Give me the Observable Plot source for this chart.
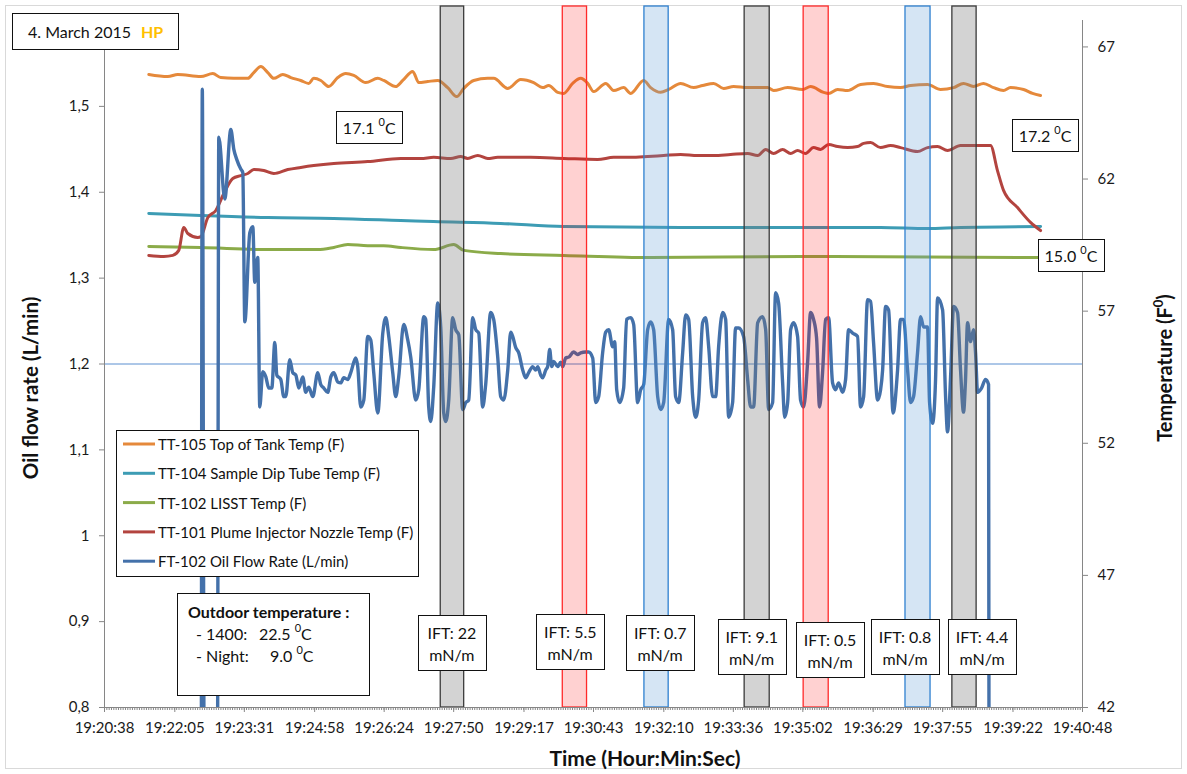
<!DOCTYPE html>
<html>
<head>
<meta charset="utf-8">
<script src="https://cdn.jsdelivr.net/npm/d3@7"></script>
<script src="https://cdn.jsdelivr.net/npm/@observablehq/plot@0.6"></script>
<style>
  html, body { margin: 0; padding: 0; background: #fff; }
  #chart { position: relative; width: 1187px; height: 774px; }
  #chart svg { display: block; }
</style>
</head>
<body>
<div id="chart"></div>
<script>
// ---------------- DATA ----------------
// All times are seconds elapsed after T0
const T0 = "19:20:00";

const xTickLabels = ["19:20:38","19:22:05","19:23:31","19:24:58","19:26:24","19:27:50","19:29:17",
  "19:30:43","19:32:10","19:33:36","19:35:02","19:36:29","19:37:55","19:39:22","19:40:48"];
const leftTickLabels = ["0,8","0,9","1","1,1","1,2","1,3","1,4","1,5"];
const rightTickLabels = ["42","47","52","57","62","67"];

const seriesNames = [
  "TT-105 Top of Tank Temp (F)",
  "TT-104 Sample Dip Tube Temp (F)",
  "TT-102 LISST Temp (F)",
  "TT-101 Plume Injector Nozzle Temp (F)",
  "FT-102 Oil Flow Rate (L/min)"
];

// TT-105 Top of Tank Temp (F)
const tt105Time = [92.8,116.3,128.7,157.2,172.0,181.9,198.0,215.3,222.7,231.4,240.0,247.4,258.6,268.5,280.8,290.7,296.9,305.6,315.5,326.6,336.5,346.4,361.2,376.1,383.5,398.3,407.0,419.4,426.8,437.9,450.3,462.6,473.8,482.5,494.8,512.1,519.5,536.9,552.9,569.0,580.1,587.6,598.7,606.1,617.2,627.1,635.8,643.2,658.1,668.0,680.3,689.0,705.1,713.7,726.1,736.0,750.8,766.9,778.0,791.6,804.0,816.4,833.7,858.4,865.8,883.2,901.7,911.6,927.7,933.9,945.0,957.4,973.4,989.5,1006.8,1022.9,1035.3,1056.3,1072.4,1088.5,1100.8,1113.2,1125.5,1137.9,1150.3,1158.9,1175.1,1186.2,1196.1];
const tt105Temp = [65.96,65.88,65.96,65.88,65.99,65.84,65.81,65.81,66.03,66.26,66.03,65.81,65.96,65.84,65.73,65.62,65.81,65.73,65.50,65.84,65.99,65.92,65.65,65.81,65.73,65.50,65.73,66.07,65.65,65.69,65.73,65.46,65.12,65.43,65.73,65.81,65.81,65.43,65.77,65.65,65.46,65.54,65.28,65.24,65.62,65.81,65.62,65.31,65.62,65.35,65.46,65.24,65.73,65.46,65.28,65.39,65.62,65.46,65.54,65.62,65.43,65.50,65.46,65.46,65.35,65.46,65.39,65.50,65.28,65.24,65.39,65.35,65.58,65.62,65.50,65.46,65.54,65.58,65.39,65.46,65.62,65.50,65.62,65.46,65.35,65.46,65.39,65.24,65.16];

// TT-104 Sample Dip Tube Temp (F)
const tt104Time = [92.8,157.2,240.0,321.7,404.5,445.3,528.2,606.1,750.8,998.2,1056.3,1097.1,1196.1];
const tt104Temp = [60.70,60.62,60.54,60.51,60.43,60.39,60.32,60.20,60.17,60.17,60.13,60.17,60.20];

// TT-102 LISST Temp (F)
const tt102Time = [92.8,157.2,240.0,301.9,321.7,339.0,363.7,383.5,404.5,445.3,470.1,482.5,528.2,606.1,713.7,899.2,1196.1];
const tt102Temp = [59.45,59.41,59.33,59.33,59.41,59.52,59.48,59.48,59.41,59.33,59.52,59.30,59.18,59.11,59.03,59.07,59.03];

// TT-101 Plume Injector Nozzle Temp (F)
const tt101Time = [92.8,111.4,122.5,129.9,136.1,141.1,153.4,157.2,165.8,175.7,185.6,196.7,206.6,215.3,222.7,235.1,247.4,264.8,280.8,296.9,321.7,363.7,404.5,429.3,445.3,466.4,478.7,487.4,499.8,512.1,524.5,565.3,606.1,648.1,668.0,689.0,710.0,729.8,750.8,771.9,791.6,812.6,833.7,846.1,856.0,865.8,877.0,886.9,895.5,905.4,915.3,924.0,933.9,945.0,957.4,969.7,977.2,985.8,998.2,1010.5,1022.9,1043.9,1056.3,1068.6,1081.0,1097.1,1118.1,1134.2,1142.8,1150.3,1167.6,1183.7,1196.1];
const tt101Temp = [59.11,59.07,59.11,59.30,60.17,59.94,59.79,59.82,60.54,60.81,61.45,62.02,62.13,62.21,62.36,62.32,62.21,62.36,62.44,62.51,62.59,62.66,62.78,62.78,62.82,62.78,62.85,62.78,62.89,62.78,62.82,62.82,62.78,62.74,62.82,62.82,62.85,62.89,62.93,62.89,62.89,62.93,62.97,62.89,63.12,62.97,63.12,62.97,63.08,62.97,63.19,63.12,63.31,63.23,63.19,63.23,63.35,63.38,63.19,63.27,63.19,63.04,63.19,63.23,63.08,63.27,63.27,63.27,62.32,61.57,60.92,60.36,60.05];

// FT-102 Oil Flow Rate (L/min)   (values below 0,8 run off the bottom of the chart)
const flowTime = [157.8,159.0,161.5,177.6,179.4,186.8,194.3,198.0,201.7,206.6,209.1,211.6,217.8,221.5,223.9,227.6,230.1,233.8,237.6,241.3,245.0,248.7,251.2,256.1,259.8,262.3,267.2,270.9,274.7,278.4,283.3,287.0,290.7,295.7,301.9,305.6,309.3,314.2,318.0,321.7,326.6,330.3,334.0,339.0,342.7,348.9,351.3,355.0,358.8,363.7,367.4,371.1,376.1,382.3,386.0,389.7,394.6,398.3,402.0,408.2,413.2,416.9,423.1,426.8,433.0,435.4,439.1,441.6,445.3,450.3,454.0,457.7,460.2,463.9,468.8,472.5,476.3,481.2,484.9,488.6,493.6,497.3,501.0,505.9,509.6,515.8,519.5,524.5,528.2,531.9,536.9,540.6,543.1,546.8,550.5,555.4,559.1,562.8,567.8,571.5,574.0,577.7,580.1,583.9,586.3,588.8,591.3,593.8,598.7,602.4,604.9,608.6,612.3,618.5,623.4,627.1,633.3,637.0,642.0,645.7,649.4,654.3,658.1,661.8,666.7,669.2,671.7,675.4,680.3,684.0,689.0,692.7,697.6,701.4,705.1,710.0,713.7,717.4,722.4,726.1,729.8,736.0,740.9,744.6,748.4,753.3,757.0,760.7,765.7,769.4,773.1,778.0,781.7,785.5,790.4,794.1,797.8,802.8,806.5,810.2,815.1,818.8,822.6,828.7,833.7,837.4,841.1,846.1,852.2,856.0,859.7,864.6,868.3,872.0,877.0,879.5,883.2,886.9,890.6,895.5,899.2,903.0,907.9,911.6,915.3,919.0,922.7,926.4,930.2,933.9,938.8,942.5,946.2,951.2,954.9,958.6,963.6,969.7,973.4,977.2,982.1,985.8,989.5,994.5,998.2,1000.7,1004.4,1008.1,1013.7,1019.2,1022.9,1026.6,1031.6,1035.3,1039.0,1043.9,1047.7,1051.4,1056.3,1058.8,1062.5,1066.2,1068.7,1074.9,1078.6,1081.0,1084.8,1088.5,1093.4,1097.1,1100.8,1103.2,1105.8,1109.5,1113.2,1115.7,1118.2,1123.1,1128.0,1131.8,1132.4];
const flowRate = [0.70,1.520,0.70,0.70,1.464,1.392,1.473,1.450,1.438,1.427,1.423,1.249,1.353,1.360,1.295,1.324,1.150,1.191,1.185,1.172,1.172,1.225,1.187,1.182,1.162,1.162,1.205,1.190,1.187,1.172,1.185,1.167,1.173,1.162,1.190,1.176,1.172,1.167,1.185,1.190,1.179,1.178,1.184,1.182,1.190,1.207,1.197,1.150,1.158,1.232,1.228,1.190,1.143,1.236,1.254,1.232,1.190,1.162,1.185,1.246,1.228,1.208,1.158,1.170,1.255,1.252,1.150,1.133,1.173,1.271,1.243,1.143,1.133,1.158,1.254,1.240,1.234,1.147,1.155,1.158,1.254,1.240,1.236,1.150,1.176,1.260,1.252,1.208,1.162,1.158,1.193,1.237,1.232,1.219,1.213,1.193,1.184,1.190,1.197,1.193,1.197,1.187,1.184,1.193,1.197,1.217,1.197,1.203,1.197,1.202,1.197,1.207,1.208,1.214,1.211,1.213,1.214,1.214,1.207,1.155,1.162,1.213,1.237,1.240,1.220,1.226,1.170,1.155,1.172,1.252,1.254,1.246,1.155,1.170,1.176,1.240,1.249,1.240,1.162,1.147,1.155,1.252,1.240,1.162,1.155,1.213,1.257,1.252,1.162,1.138,1.158,1.248,1.254,1.220,1.162,1.162,1.220,1.260,1.252,1.138,1.155,1.242,1.242,1.232,1.182,1.150,1.150,1.248,1.255,1.240,1.147,1.155,1.283,1.271,1.178,1.138,1.155,1.240,1.248,1.232,1.158,1.150,1.202,1.260,1.252,1.230,1.150,1.190,1.252,1.254,1.178,1.170,1.178,1.167,1.182,1.240,1.236,1.232,1.150,1.162,1.275,1.273,1.225,1.158,1.170,1.193,1.267,1.263,1.143,1.193,1.252,1.252,1.193,1.155,1.162,1.213,1.255,1.243,1.243,1.155,1.131,1.182,1.277,1.263,1.162,1.121,1.185,1.267,1.260,1.193,1.144,1.180,1.248,1.226,1.240,1.213,1.167,1.172,1.182,1.176,0.70];

// Target line on the flow axis
const targetFlow = [1.2];

// Shaded IFT test windows (seconds after T0)
const bandStart = [454, 605, 706, 830, 903, 1029, 1087];
const bandEnd   = [483, 635, 736, 861, 934, 1060, 1117];
const bandKind  = ["gray", "red", "blue", "gray", "red", "blue", "gray"];

// IFT labels (centre time, centre level on the flow axis)
const iftValue = ["22", "5.5", "0.7", "9.1", "0.5", "0.8", "4.4"];
const iftTime  = [468.5, 614.8, 726.1, 839.3, 936.3, 1029.1, 1124.3];
const iftLevel = [0.875, 0.876, 0.875, 0.871, 0.867, 0.870, 0.871];

// Temperature call-outs
const noteText  = ["17.1 ", "17.2 ", "15.0 "];
const noteTime  = [366.2, 1202.3, 1234.4];
const noteLevel = [1.4756, 1.4662, 1.3262];

// ---------------- HELPERS ----------------
const toSec = s => { const [h, m, x] = s.split(":").map(Number); return h * 3600 + m * 60 + x; };
const t0 = toSec(T0);
const xTicks = xTickLabels.map(s => toSec(s) - t0);
const leftTicks = leftTickLabels.map(s => +s.replace(",", "."));
const flowDomain = [leftTicks[0], 1.6];
const tempDomain = [+rightTickLabels[0], 68];
const tempToFlow = T => flowDomain[0] + (T - tempDomain[0]) * (flowDomain[1] - flowDomain[0]) / (tempDomain[1] - tempDomain[0]);
const rightTicks = rightTickLabels.map(s => tempToFlow(+s));
const leftLabel = new Map(leftTicks.map((v, i) => [v, leftTickLabels[i]]));
const rightLabel = new Map(rightTicks.map((v, i) => [v, rightTickLabels[i]]));
const xLabel = new Map(xTicks.map((v, i) => [v, xTickLabels[i]]));
const majorStep = (xTicks[xTicks.length - 1] - xTicks[0]) / (xTicks.length - 1);
const minorTicks = d3.range(0, (xTicks.length - 1) * 30 + 1).map(i => xTicks[0] + i * majorStep / 30);

const colors = ["#e5893b", "#3d9cb4", "#8bab49", "#b3443f", "#4471aa"];
const mk = (times, vals, conv) => times.map((t, i) => ({t, v: conv ? tempToFlow(vals[i]) : vals[i]}));
const s105 = mk(tt105Time, tt105Temp, true);
const s104 = mk(tt104Time, tt104Temp, true);
const s102 = mk(tt102Time, tt102Temp, true);
const s101 = mk(tt101Time, tt101Temp, true);
const sFlow = mk(flowTime, flowRate, false);

const bandStyle = {
  gray: {fill: "#7a7a7a", op: 0.33, stroke: "#3a3a3a"},
  red:  {fill: "#ff0000", op: 0.18, stroke: "#ff2a2a"},
  blue: {fill: "#5b9bd5", op: 0.26, stroke: "#2f80d0"}
};
const bands = bandStart.map((s, i) => ({s, e: bandEnd[i], k: bandKind[i]}));

const FONT = "Lato, 'Open Sans', 'DejaVu Sans', sans-serif";
const AX = "#868686";

// ---------------- PLOT ----------------
const plot = Plot.plot({
  width: 1187,
  height: 774,
  marginLeft: 104,
  marginRight: 105,
  marginTop: 20,
  marginBottom: 67,
  style: {fontFamily: FONT, fontSize: "15px", background: "#fff", color: "#111"},
  x: {type: "linear", domain: [xTicks[0], xTicks[xTicks.length - 1]]},
  y: {type: "linear", domain: flowDomain},
  marks: [
    Plot.ruleY(targetFlow, {stroke: "#5b8fd0", strokeWidth: 1}),
    Plot.line(s105, {x: "t", y: "v", stroke: colors[0], strokeWidth: 3, curve: "monotone-x", clip: true}),
    Plot.line(s104, {x: "t", y: "v", stroke: colors[1], strokeWidth: 3, curve: "monotone-x", clip: true}),
    Plot.line(s102, {x: "t", y: "v", stroke: colors[2], strokeWidth: 3, curve: "monotone-x", clip: true}),
    Plot.line(s101, {x: "t", y: "v", stroke: colors[3], strokeWidth: 3, curve: "monotone-x", clip: true}),
    Plot.line(sFlow, {x: "t", y: "v", stroke: colors[4], strokeWidth: 3.4, curve: "monotone-x", clip: true}),
    Plot.rect(bands, {x1: "s", x2: "e", insetTop: -14, fill: d => bandStyle[d.k].fill, fillOpacity: d => bandStyle[d.k].op,
      stroke: d => bandStyle[d.k].stroke, strokeWidth: 1.3}),
    Plot.ruleX([xTicks[0]], {stroke: AX, strokeWidth: 1}),
    Plot.ruleX([xTicks[xTicks.length - 1]], {stroke: AX, strokeWidth: 1}),
    Plot.ruleY([flowDomain[0]], {stroke: AX, strokeWidth: 1}),
    Plot.axisY(leftTicks, {anchor: "left", tickSize: 5, tickPadding: 10, tickFormat: d => leftLabel.get(d),
      label: null, stroke: AX, fill: "#1a1a1a", fontSize: 15}),
    Plot.axisY(rightTicks, {anchor: "right", tickSize: 5, tickPadding: 10, tickFormat: d => rightLabel.get(d),
      label: null, stroke: AX, fill: "#1a1a1a", fontSize: 15}),
    Plot.axisX(xTicks, {anchor: "bottom", tickSize: 5, tickPadding: 10, tickFormat: d => xLabel.get(d),
      label: null, stroke: AX, fill: "#1a1a1a", fontSize: 15}),
    Plot.axisX(minorTicks, {anchor: "bottom", tickSize: 3, tickFormat: () => "", label: null, stroke: AX})
  ]
});

document.getElementById("chart").appendChild(plot);

// ---------------- ANNOTATIONS ----------------
const sx = plot.scale("x"), sy = plot.scale("y");
const svg = d3.select(plot);
const g = svg.append("g").attr("font-family", FONT).attr("fill", "#111").attr("text-anchor", "start");

// outer chart border
svg.insert("rect", ":first-child").attr("x", 5.5).attr("y", 5.5).attr("width", 1176).attr("height", 763)
  .attr("fill", "#fff").attr("stroke", "#d9d9d9").attr("stroke-width", 1);

function boxAt(cx, cy, w, h) {
  g.append("rect").attr("x", Math.round(cx - w / 2) + 0.5).attr("y", Math.round(cy - h / 2) + 0.5)
    .attr("width", w).attr("height", h).attr("fill", "#fff").attr("stroke", "#111").attr("stroke-width", 1);
}

// IFT boxes
iftValue.forEach((val, i) => {
  const cx = sx.apply(iftTime[i]), cy = sy.apply(iftLevel[i]);
  boxAt(cx, cy, 68, 55);
  g.append("text").attr("x", cx).attr("y", cy - 10).attr("text-anchor", "middle").attr("dominant-baseline", "central")
    .attr("font-size", 16).text("IFT: " + val);
  g.append("text").attr("x", cx).attr("y", cy + 12).attr("text-anchor", "middle").attr("dominant-baseline", "central")
    .attr("font-size", 16).text("mN/m");
});

// temperature call-outs
noteText.forEach((txt, i) => {
  const cx = sx.apply(noteTime[i]), cy = sy.apply(noteLevel[i]);
  boxAt(cx, cy, 66, 32);
  const t = g.append("text").attr("x", cx).attr("y", cy).attr("text-anchor", "middle").attr("dominant-baseline", "central")
    .attr("font-size", 16);
  t.append("tspan").text(txt);
  t.append("tspan").attr("font-size", 11).attr("dy", -6).text("0");
  t.append("tspan").attr("dy", 6).text("C");
});

// date box
g.append("rect").attr("x", 12.5).attr("y", 13.5).attr("width", 166).attr("height", 36)
  .attr("fill", "#fff").attr("stroke", "#111");
const dt = g.append("text").attr("x", 28).attr("y", 31).attr("dominant-baseline", "central").attr("font-size", 16);
dt.append("tspan").text("4. March 2015");
dt.append("tspan").attr("x", 141).attr("fill", "#ffc000").attr("font-weight", "bold").text("HP");

// legend
const lg = g.append("g");
lg.append("rect").attr("x", 116.5).attr("y", 430.5).attr("width", 302).attr("height", 146)
  .attr("fill", "#fff").attr("stroke", "#111");
seriesNames.forEach((name, i) => {
  const yy = 444 + i * 29.3;
  lg.append("line").attr("x1", 123).attr("x2", 155).attr("y1", yy).attr("y2", yy)
    .attr("stroke", colors[i]).attr("stroke-width", 3);
  lg.append("text").attr("x", 158).attr("y", yy).attr("dominant-baseline", "central").attr("font-size", 15).text(name);
});

// outdoor temperature box
const ob = g.append("g");
ob.append("rect").attr("x", 177.5).attr("y", 593.5).attr("width", 192).attr("height", 102)
  .attr("fill", "#fff").attr("stroke", "#111");
ob.append("text").attr("x", 188).attr("y", 611).attr("dominant-baseline", "central").attr("font-size", 16)
  .attr("font-weight", "bold").text("Outdoor temperature :");
const l1 = ob.append("text").attr("y", 633).attr("dominant-baseline", "central").attr("font-size", 16);
l1.append("tspan").attr("x", 196).text("- 1400:");
l1.append("tspan").attr("x", 259).text("22.5 ");
l1.append("tspan").attr("font-size", 11).attr("dy", -6).text("0");
l1.append("tspan").attr("dy", 6).text("C");
const l2 = ob.append("text").attr("y", 655).attr("dominant-baseline", "central").attr("font-size", 16);
l2.append("tspan").attr("x", 196).text("- Night:");
l2.append("tspan").attr("x", 270).text("9.0 ");
l2.append("tspan").attr("font-size", 11).attr("dy", -6).text("0");
l2.append("tspan").attr("dy", 6).text("C");

// axis titles
g.append("text").attr("x", 645).attr("y", 757).attr("text-anchor", "middle").attr("dominant-baseline", "central")
  .attr("font-size", 21).attr("font-weight", "bold").text("Time (Hour:Min:Sec)");
g.append("text").attr("transform", "translate(30,388) rotate(-90)").attr("text-anchor", "middle")
  .attr("dominant-baseline", "central").attr("font-size", 20.5).attr("font-weight", "bold").text("Oil flow rate (L/min)");
const rt = g.append("text").attr("transform", "translate(1164,368) rotate(-90)").attr("text-anchor", "middle")
  .attr("dominant-baseline", "central").attr("font-size", 20).attr("font-weight", "bold");
rt.append("tspan").text("Temperature (F");
rt.append("tspan").attr("font-size", 13).attr("dy", -6).text("0");
rt.append("tspan").attr("dy", 6).text(")");
</script>
</body>
</html>
